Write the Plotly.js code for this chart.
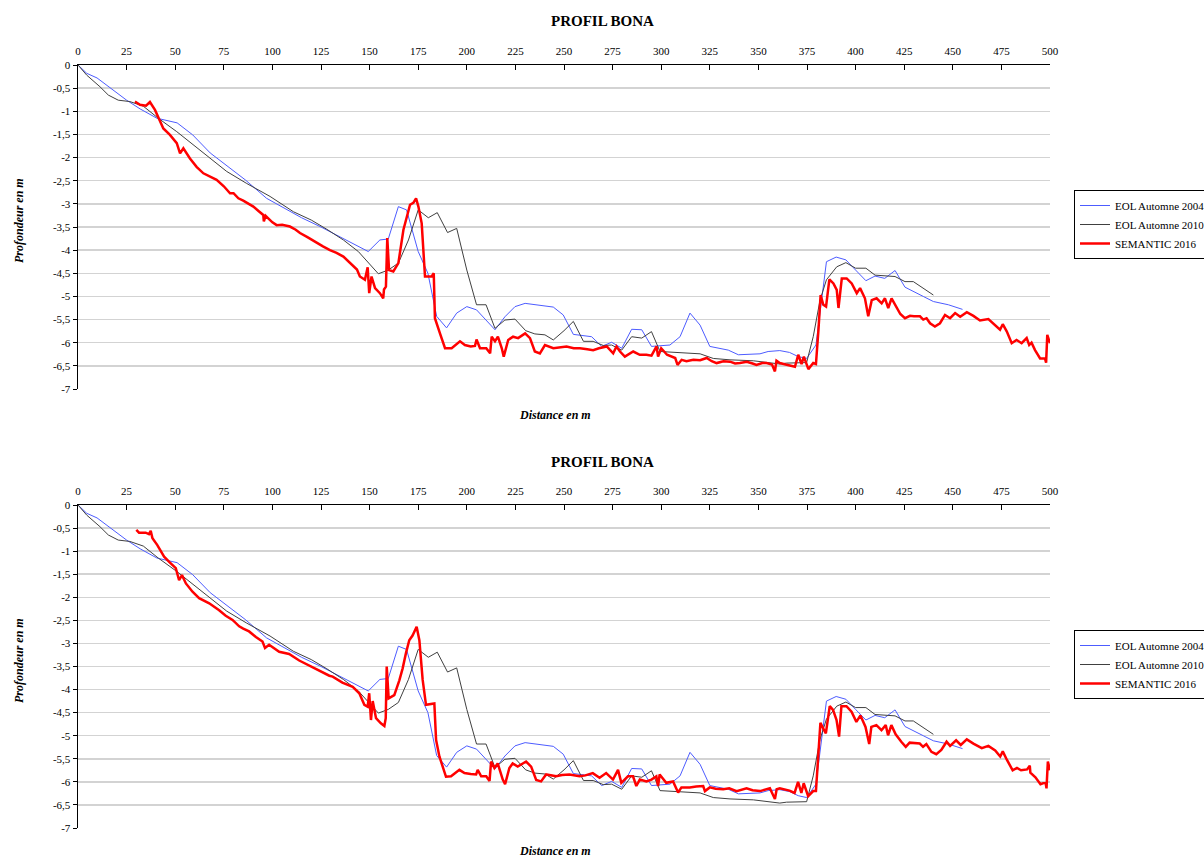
<!DOCTYPE html>
<html>
<head>
<meta charset="utf-8">
<script src="https://cdn.plot.ly/plotly-3.0.1.min.js"></script>
<style>html,body{margin:0;padding:0;background:#fff;}#chart{width:1204px;height:859px;}</style>
</head>
<body>
<div id="chart"></div>
<script>
// ---- Data ----
var chartTitle = "PROFIL BONA";
var xTitle = "Distance en m";
var yTitle = "Profondeur en m";
var seriesNames = ["EOL Automne 2004", "EOL Automne 2010", "SEMANTIC 2016"];

var xTickVals = [0,25,50,75,100,125,150,175,200,225,250,275,300,325,350,375,400,425,450,475,500];
var yTickVals = [0,-0.5,-1,-1.5,-2,-2.5,-3,-3.5,-4,-4.5,-5,-5.5,-6,-6.5,-7];
var yTickText = ["0","-0,5","-1","-1,5","-2","-2,5","-3","-3,5","-4","-4,5","-5","-5,5","-6","-6,5","-7"];

// EOL Automne 2004 (same survey in both panels)
var eol2004X = [0,4.5,9.8,18.2,25,32,40.6,51,59,68,
  80,86,97,104,115,125,134.8,149.3,155.3,159.6,
  164.8,169,175,180,184.5,189.6,194.8,200,205,214.5,
  219.6,224.8,230,244.5,249.6,254.8,264.2,269.4,274.5,279.7,
  284.8,290,295,304.5,309.7,314.8,320,325,334.5,339.7,
  350.8,355,361,366,370.5,374.8,379.6,385,390,395,
  400,405.3,410,415,420.3,425.4,434.8,440,447.7,455];
var eol2004Y = [0,-0.18,-0.28,-0.54,-0.76,-0.95,-1.15,-1.25,-1.51,-1.9,
  -2.3,-2.48,-2.88,-3.05,-3.3,-3.5,-3.71,-4.03,-3.78,-3.76,
  -3.06,-3.13,-4.03,-4.5,-5.43,-5.68,-5.36,-5.22,-5.29,-5.72,
  -5.44,-5.22,-5.15,-5.23,-5.4,-5.82,-5.87,-6.08,-5.99,-6.12,
  -5.71,-5.72,-6.08,-6.05,-5.87,-5.36,-5.62,-6.08,-6.16,-6.26,
  -6.24,-6.19,-6.17,-6.21,-6.3,-6.34,-6.05,-4.25,-4.15,-4.21,
  -4.43,-4.66,-4.56,-4.61,-4.44,-4.8,-5.0,-5.11,-5.18,-5.28];

// EOL Automne 2010 (same survey in both panels)
var eol2010X = [0,4.5,11.3,15.6,20.7,26.7,33.6,41.3,50.8,59.3,
  68,76.5,86.8,98.8,110.8,120,128,136.5,144.2,149.3,
  154.5,159.6,164.8,170,175,180.2,184.8,190.1,194.8,200,
  205,209.9,214.5,219.6,224.8,230.3,235,240.2,244.5,250,
  254.8,260,265,270.2,274.5,279.7,284.8,290,295,299.4,
  309.7,320,326.8,335.4,347.4,361,364.5,374.8,378.2,381.7,
  385,390.3,395,400,405.3,410,420.3,425.4,429.7,440];
var eol2010Y = [0,-0.22,-0.47,-0.65,-0.76,-0.79,-0.89,-1.15,-1.44,-1.73,
  -2.02,-2.3,-2.56,-2.84,-3.17,-3.35,-3.55,-3.78,-4.03,-4.28,
  -4.51,-4.43,-4.28,-3.78,-3.13,-3.3,-3.19,-3.62,-3.53,-4.43,
  -5.18,-5.18,-5.69,-5.51,-5.49,-5.74,-5.81,-5.83,-5.94,-5.74,
  -5.54,-5.97,-5.97,-6.06,-6.05,-6.16,-5.87,-5.9,-5.76,-6.19,
  -6.21,-6.24,-6.34,-6.37,-6.39,-6.46,-6.44,-6.43,-5.87,-5.08,
  -4.64,-4.36,-4.27,-4.39,-4.39,-4.54,-4.57,-4.68,-4.68,-4.97];

// SEMANTIC 2016 - upper panel
var sem2016TopX = [29.3,31.9,35,37,39.6,42.2,43.9,47.3,50.8,52.5,
  54.2,57.6,61,64.5,68,71.3,75,78.2,80,82.5,
  85,90.2,93,95.3,95.6,96.5,100,102.2,105,109,
  112,114.2,118,122.8,126,129.6,133,136.5,139,141.6,
  143.5,145,147.6,149,149.8,151,152.8,155.3,157,157.4,
  158.4,159.1,160,162.2,164.8,167.4,169,170.8,172.5,173.9,
  175.1,176.8,178.5,181.9,183,183.6,186.2,188.8,192.2,196.5,
  199,202,204.2,205,206.8,210,212,212.8,214.5,216,
  218,219,221.3,223.8,226.4,230,232.5,235,237.6,240.2,
  244.5,248,251.3,255,258.2,262,265,268,272,275.3,
  277,278.8,281.3,285.6,289,292.4,295,297.6,298.4,300,
  303,307.2,308.4,310.5,313,316.5,320,323.4,326,328.5,
  332,335.4,338,340.5,344,347,349,352,354.2,357,
  358.5,359.3,361,364,368.8,370.5,372.2,373.4,375.7,378.2,
  379.6,380.9,382,383.4,384.8,386.5,388.6,390.3,391.2,392.9,
  395.4,398,400.6,402.3,404.8,406.5,408.3,410.8,413.4,415.1,
  416.8,418.5,421.1,423,425.4,428,430,433.1,434.8,436.5,
  438.3,440.8,443.4,446,448.6,451.2,453.8,457.2,460.6,464,
  468.3,471.7,474.3,475.7,477.8,480.3,482.8,485.4,488,489.3,
  490.5,492.3,494.9,497.4,498,498.6,500];
var sem2016TopY = [-0.79,-0.86,-0.88,-0.8,-0.97,-1.22,-1.37,-1.51,-1.69,-1.91,
  -1.8,-2.02,-2.2,-2.34,-2.42,-2.48,-2.62,-2.77,-2.77,-2.88,
  -2.93,-3.06,-3.16,-3.24,-3.38,-3.26,-3.4,-3.46,-3.45,-3.49,
  -3.56,-3.63,-3.72,-3.85,-3.92,-4.0,-4.06,-4.14,-4.24,-4.36,
  -4.42,-4.57,-4.64,-4.37,-4.93,-4.57,-4.82,-4.93,-5.04,-4.85,
  -4.79,-3.74,-4.43,-4.46,-4.28,-3.56,-3.28,-3.02,-2.98,-2.88,
  -3.06,-3.42,-4.57,-4.57,-4.5,-5.47,-5.8,-6.12,-6.12,-5.97,
  -6.05,-6.08,-6.07,-5.93,-6.12,-6.12,-6.23,-5.87,-5.97,-5.87,
  -6.12,-6.3,-5.94,-5.87,-5.9,-5.8,-5.9,-6.19,-6.23,-6.05,
  -6.12,-6.1,-6.08,-6.12,-6.12,-6.14,-6.16,-6.12,-6.08,-6.23,
  -6.08,-6.19,-6.3,-6.19,-6.26,-6.26,-6.28,-6.08,-6.3,-6.12,
  -6.26,-6.33,-6.48,-6.37,-6.4,-6.37,-6.38,-6.33,-6.4,-6.44,
  -6.4,-6.41,-6.45,-6.44,-6.41,-6.45,-6.48,-6.44,-6.44,-6.47,
  -6.62,-6.39,-6.44,-6.47,-6.52,-6.26,-6.46,-6.3,-6.57,-6.44,
  -6.46,-5.72,-4.97,-5.18,-5.22,-4.63,-4.72,-4.86,-5.25,-4.61,
  -4.61,-4.72,-4.93,-4.82,-5.04,-5.43,-5.08,-5.04,-5.15,-5.04,
  -5.25,-5.04,-5.25,-5.38,-5.47,-5.42,-5.43,-5.43,-5.5,-5.47,
  -5.58,-5.65,-5.58,-5.4,-5.47,-5.36,-5.44,-5.34,-5.42,-5.52,
  -5.49,-5.61,-5.72,-5.6,-5.76,-6.01,-5.94,-6.01,-5.9,-6.05,
  -6.0,-6.16,-6.34,-6.34,-6.43,-5.83,-6.01];

// SEMANTIC 2016 - lower panel
var sem2016BotX = [30,31.4,34.8,36.5,37.4,38.3,40.8,42.6,44.3,46.9,
  50.3,52,53.5,55.5,58.9,62.3,67.5,72.6,76,79.5,
  82.9,85,88,91.5,94.9,96.2,98.3,103.5,106,108.6,
  113.8,119,124.1,129.3,131,136,141.3,144.7,147.3,149,
  149.8,150.7,151.6,153.3,155.8,157.6,158.3,158.8,159.8,162.7,
  165.3,167,168.7,170.4,172.1,174.2,175.6,177.3,179,183.3,
  184.2,185.9,189.3,191.9,196.2,198.8,202,204.8,205.6,207.4,
  210,211.7,212.5,214.2,215.9,218.5,219.7,221.9,223.6,226.2,
  230.5,233.1,235.7,238.2,240.8,246,249,252.8,258,261,
  264.8,268.3,271.7,275.2,277.8,279.5,282.9,285.5,287.2,289,
  292.4,295,297.5,298.4,299.2,302.6,306.1,308.7,310.4,314.7,
  318,321.6,322.5,325,328,331.9,335,338.8,343.9,347,
  350.8,355.9,358.5,359.4,361,366,368.6,370.4,372.1,373.3,
  375.6,378.2,379.6,380.7,381.9,383.3,384.7,386.7,388.4,390.2,
  391.5,392.7,395.3,397.9,400.4,402.5,405.1,407,408.1,410.7,
  413.3,415.5,416.7,418.4,420.6,423.5,425.8,427.8,433,434.7,
  436.4,439,441.5,444.1,446.8,448.6,451.7,454.1,457.2,460.6,
  464.9,468.3,471.8,474.4,475.7,477.8,480.8,483,485.1,488.2,
  489.6,489.9,492.5,495.1,497.7,498.2,498.9,500];
var sem2016BotY = [-0.54,-0.6,-0.6,-0.63,-0.56,-0.72,-0.87,-1.01,-1.12,-1.23,
  -1.37,-1.63,-1.52,-1.7,-1.88,-2.02,-2.13,-2.28,-2.4,-2.49,
  -2.63,-2.68,-2.74,-2.86,-2.96,-3.1,-3.03,-3.18,-3.2,-3.23,
  -3.37,-3.48,-3.6,-3.7,-3.72,-3.85,-3.94,-4.08,-4.33,-4.37,
  -4.08,-4.66,-4.25,-4.62,-4.73,-4.79,-4.62,-3.5,-4.19,-4.12,
  -3.8,-3.54,-3.21,-2.93,-2.83,-2.64,-2.93,-3.79,-4.33,-4.3,
  -5.09,-5.45,-5.89,-5.88,-5.74,-5.81,-5.83,-5.84,-5.74,-5.88,
  -5.88,-5.98,-5.56,-5.7,-5.6,-5.95,-6.05,-5.7,-5.6,-5.67,
  -5.56,-5.67,-5.96,-5.99,-5.84,-5.88,-5.85,-5.84,-5.88,-5.86,
  -5.81,-5.91,-5.81,-5.95,-5.74,-6.02,-5.88,-5.88,-6.09,-5.95,
  -5.99,-5.95,-5.88,-6.09,-5.84,-6.02,-5.99,-6.23,-6.12,-6.12,
  -6.1,-6.09,-6.2,-6.12,-6.15,-6.16,-6.14,-6.2,-6.14,-6.18,
  -6.2,-6.14,-6.37,-6.16,-6.14,-6.19,-6.24,-6.0,-6.24,-6.03,
  -6.31,-6.2,-6.2,-5.53,-4.72,-4.84,-4.95,-4.36,-4.44,-4.66,
  -5.02,-4.36,-4.36,-4.48,-4.7,-4.56,-4.81,-5.18,-4.81,-4.77,
  -4.88,-4.77,-4.99,-4.77,-4.97,-5.13,-5.24,-5.15,-5.17,-5.24,
  -5.18,-5.35,-5.4,-5.31,-5.13,-5.22,-5.1,-5.2,-5.08,-5.17,
  -5.27,-5.22,-5.32,-5.45,-5.34,-5.52,-5.75,-5.7,-5.75,-5.73,
  -5.65,-5.8,-5.9,-6.05,-6.01,-6.14,-5.56,-5.75];

// ---- Styling ----
var SERIF = "'Liberation Serif', 'Times New Roman', serif";
var colBlue = "#4d5cff", colBlack = "#404040", colRed = "#ff0000";

function mk(x, y, name, color, width, xa, ya, leg) {
  return {x: x, y: y, name: name, type: "scatter", mode: "lines",
    line: {color: color, width: width}, xaxis: xa, yaxis: ya, legend: leg,
    hoverinfo: "x+y+name"};
}
var traces = [
  mk(eol2004X, eol2004Y, seriesNames[0], colBlue, 1, "x", "y", "legend"),
  mk(eol2010X, eol2010Y, seriesNames[1], colBlack, 1, "x", "y", "legend"),
  mk(sem2016TopX, sem2016TopY, seriesNames[2], colRed, 2.5, "x", "y", "legend"),
  mk(eol2004X, eol2004Y, seriesNames[0], colBlue, 1, "x2", "y2", "legend2"),
  mk(eol2010X, eol2010Y, seriesNames[1], colBlack, 1, "x2", "y2", "legend2"),
  mk(sem2016BotX, sem2016BotY, seriesNames[2], colRed, 2.5, "x2", "y2", "legend2")
];

var H = 859;
function py(p) { return (H - p) / H; }
function px(p) { return (p - 78) / 972; }

function xax(anchor) {
  return {anchor: anchor, domain: [0, 1], side: "top", range: [0, 500],
    tickmode: "array", tickvals: xTickVals, ticks: "inside", ticklen: 5, tickcolor: "#000",
    tickwidth: 1, showline: true, linecolor: "#000", linewidth: 1.5, showgrid: false,
    zeroline: false, ticklabelstandoff: 4,
    tickfont: {family: SERIF, size: 11, color: "#000"}, fixedrange: true};
}
function yax(anchor, dom) {
  return {anchor: anchor, domain: dom, range: [-7, 0], tickmode: "array",
    tickvals: yTickVals, ticktext: yTickText, ticks: "outside", ticklen: 4,
    tickcolor: "#000", showline: true, linecolor: "#000", linewidth: 1.5,
    showgrid: true, gridcolor: "#d3d3d3", gridwidth: 1.5, zeroline: false,
    tickfont: {family: SERIF, size: 11, color: "#000"}, fixedrange: true};
}
function leg(topPx) {
  return {x: px(1074), y: py(topPx), xanchor: "left", yanchor: "top",
    bordercolor: "#000", borderwidth: 1, bgcolor: "#fff",
    font: {family: SERIF, size: 11, color: "#000"}, itemwidth: 30, tracegroupgap: 0};
}
function ann(text, xp, yp, size, angle) {
  return {text: text, xref: "paper", yref: "paper", x: px(xp), y: py(yp),
    xanchor: "center", yanchor: "middle", showarrow: false, textangle: angle || 0,
    font: {family: SERIF, size: size, color: "#000"}};
}

var layout = {
  width: 1204, height: 859,
  margin: {l: 78, r: 154, t: 0, b: 0, autoexpand: false},
  paper_bgcolor: "#fff", plot_bgcolor: "#fff",
  showlegend: true,
  xaxis: xax("y"), yaxis: yax("x", [py(389), py(65)]),
  xaxis2: xax("y2"), yaxis2: yax("x2", [py(828), py(505)]),
  legend: leg(190), legend2: leg(630),
  annotations: [
    ann("<b>" + chartTitle + "</b>", 602, 21, 15),
    ann("<b><i>" + xTitle + "</i></b>", 555, 415, 12),
    ann("<b><i>" + yTitle + "</i></b>", 19, 221, 12, -90),
    ann("<b>" + chartTitle + "</b>", 602, 462, 15),
    ann("<b><i>" + xTitle + "</i></b>", 555, 851, 12),
    ann("<b><i>" + yTitle + "</i></b>", 19, 661, 12, -90)
  ]
};

Plotly.newPlot("chart", traces, layout, {displayModeBar: false, staticPlot: true});
</script>
</body>
</html>
